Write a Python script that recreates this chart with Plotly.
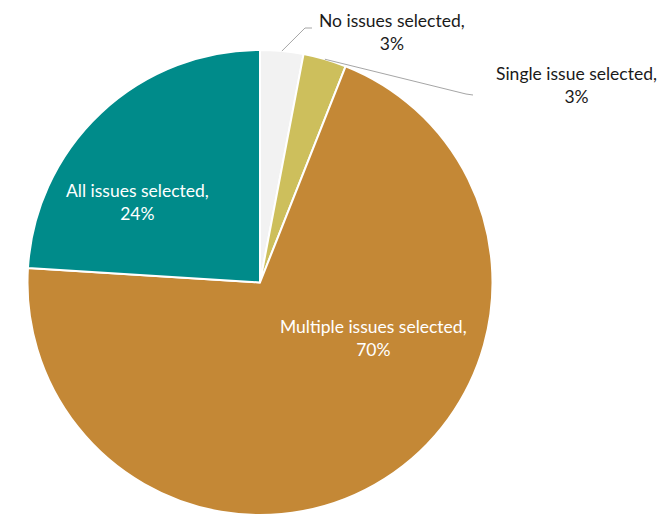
import plotly.graph_objects as go
import math

labels = ["No issues selected", "Single issue selected", "Multiple issues selected", "All issues selected"]
values = [3, 3, 70, 24]
colors = ["#f2f2f2", "#cdbf5c", "#c48836", "#008b8a"]

W, H = 660, 515
# pie domain in pixels
x0, x1 = 26, 494
ytop = 50
dom_x = [x0 / W, x1 / W]
dom_y = [0, 1 - ytop / H]

fig = go.Figure(go.Pie(
    labels=labels, values=values, sort=False, direction="clockwise", rotation=0,
    marker=dict(colors=colors, line=dict(color="white", width=2)),
    textinfo="none", hoverinfo="label+percent",
    domain=dict(x=dom_x, y=dom_y), showlegend=False,
))

font = dict(family="Lato, Calibri, sans-serif", size=17.5)
# label positions (paper px): (cx, cy, color)
label_pos = [
    (392, 32, "#1a1a1a"),
    (576, 85, "#1a1a1a"),
    (373, 338, "white"),
    (137, 202, "white"),
]
for lab, v, (cx, cy, col) in zip(labels, values, label_pos):
    fig.add_annotation(
        x=cx / W, y=1 - cy / H, xref="paper", yref="paper",
        text=f"{lab},<br>{v}%", showarrow=False,
        font=dict(color=col, **font), align="center",
        xanchor="center", yanchor="middle",
    )

# leader lines from slice edge (mid-angle) to label
cxp = (x0 + x1) / 2
rad = min(x1 - x0, H - ytop) / 2
cyp = ytop + rad
total = sum(values)
cum = 0
mids = []
for v in values:
    mids.append((cum + v / 2) / total * 2 * math.pi)
    cum += v
leaders = [
    (0, [(305, 28), (312, 28)]),
    (1, [(466, 94), (473, 95)]),
]
for idx, pts in leaders:
    a = mids[idx]
    sx = cxp + rad * math.sin(a)
    sy = cyp - rad * math.cos(a)
    path = f"M {sx/W} {1-sy/H}"
    for px, py in pts:
        path += f" L {px/W} {1-py/H}"
    fig.add_shape(type="path", path=path, xref="paper", yref="paper",
                  line=dict(color="#a6a6a6", width=1))

fig.update_layout(
    width=W, height=H, margin=dict(l=0, r=0, t=0, b=0),
    paper_bgcolor="white", plot_bgcolor="white",
)
fig.write_html("out.html", config={"displayModeBar": False},
               post_script="document.body.style.margin='0';document.body.style.overflow='hidden';")
